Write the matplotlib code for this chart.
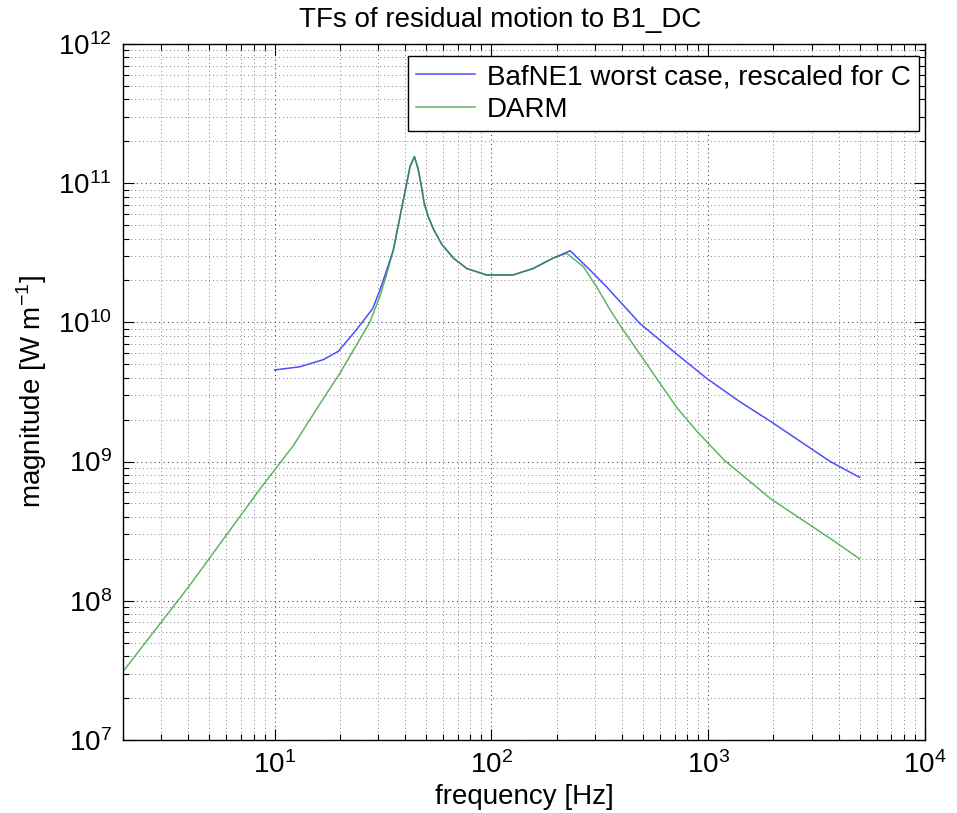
# plot.py
#
# Transfer functions of residual motion to B1_DC.
# Two magnitude curves on log-log axes, MATLAB-like styling.

import numpy as np
import matplotlib
matplotlib.use("Agg")
import matplotlib.pyplot as plt
from matplotlib.ticker import LogLocator, NullFormatter

# ---- Data -------------------------------------------------------------

# DARM curve: frequency [Hz] and magnitude [W/m]
darm_freq = [2, 4, 8.6, 12.2, 16.2, 20, 27.5, 30.6, 32.7, 35.3, 39.3, 42.2,
             44.2, 46, 47.7, 49, 51.2, 54, 59, 66.8, 77, 95, 126, 156,
             193, 223, 266, 306, 353, 406, 485, 579, 716, 897, 1190, 1945,
             3660, 5000]
darm_mag = [3.1e7, 1.25e8, 6.4e8, 1.3e9, 2.6e9, 4.3e9, 1.0e10, 1.53e10,
            2.15e10, 3.3e10, 7.6e10, 1.32e11, 1.55e11, 1.26e11, 9.3e10,
            7.2e10, 5.75e10, 4.7e10, 3.65e10, 2.9e10, 2.44e10, 2.19e10,
            2.19e10, 2.44e10, 2.9e10, 3.13e10, 2.51e10, 1.80e10, 1.23e10,
            8.8e9, 5.9e9, 3.95e9, 2.45e9, 1.62e9, 1.02e9, 5.4e8, 2.8e8,
            2.0e8]

# BafNE1 worst case, rescaled for C
baf_freq = [10, 13.1, 16.8, 19.7, 23.8, 28.4, 30.6, 32.7, 35.3, 39.3, 42.2,
            44.2, 46, 47.7, 49, 51.2, 54, 59, 66.8, 77, 95, 126, 156, 193,
            231, 285, 340, 406, 485, 691, 985, 1402, 1945, 3660, 5000]
baf_mag = [4.55e9, 4.8e9, 5.4e9, 6.2e9, 8.8e9, 1.26e10, 1.7e10, 2.3e10,
           3.3e10, 7.6e10, 1.32e11, 1.55e11, 1.26e11, 9.3e10, 7.2e10,
           5.75e10, 4.7e10, 3.65e10, 2.9e10, 2.44e10, 2.19e10, 2.19e10,
           2.44e10, 2.9e10, 3.27e10, 2.38e10, 1.80e10, 1.33e10, 9.8e9,
           6.2e9, 3.96e9, 2.69e9, 1.94e9, 1.0e9, 7.7e8]

legend_labels = ["BafNE1 worst case, rescaled for C", "DARM"]


# ---- Plotting ----------------------------------------------------------

def plot_results(outpath="out.png"):
    plt.rcParams["font.family"] = ["Liberation Sans", "DejaVu Sans"]
    plt.rcParams["mathtext.fontset"] = "custom"
    plt.rcParams["mathtext.rm"] = "Liberation Sans"

    fig = plt.figure(figsize=(9.57, 8.13), dpi=100)
    ax = fig.add_axes([0.1285, 0.0898, 0.8380, 0.8561])

    ax.loglog(baf_freq, baf_mag, color="#4d4dff", lw=1.1,
              label=legend_labels[0])
    ax.loglog(darm_freq, darm_mag, color="#2e9a2e", lw=1.1, alpha=0.75,
              label=legend_labels[1])

    ax.set_xlim(2, 1e4)
    ax.set_ylim(1e7, 1e12)

    # MATLAB style grid: dotted on major and minor ticks
    ax.xaxis.set_minor_locator(LogLocator(base=10, subs=np.arange(2, 10)))
    ax.yaxis.set_minor_locator(LogLocator(base=10, subs=np.arange(2, 10)))
    ax.xaxis.set_minor_formatter(NullFormatter())
    ax.yaxis.set_minor_formatter(NullFormatter())
    ax.grid(True, which="major", ls=(0, (1, 3)), color="0.3", lw=0.8)
    ax.grid(True, which="minor", ls=(0, (1, 3)), color="0.5", lw=0.7)

    ax.tick_params(which="both", direction="in", top=True, right=True,
                   labelsize=20, width=0.8)
    ax.tick_params(which="major", length=8, pad=8)
    ax.tick_params(which="minor", length=4)
    for sp in ax.spines.values():
        sp.set_linewidth(1.0)

    ax.set_xlabel("frequency [Hz]", fontsize=20, labelpad=4)
    ax.set_ylabel("magnitude [W m$^{-1}$]", fontsize=20, labelpad=6)
    ax.set_title("TFs of residual motion to B1_DC", fontsize=20, pad=12,
                 x=0.47)

    leg = ax.legend(loc="upper right", fontsize=20, fancybox=False,
                    framealpha=1, edgecolor="black",
                    bbox_to_anchor=(0.993, 0.983),
                    borderaxespad=0.0, handlelength=2.1,
                    handletextpad=0.45, borderpad=0.3, labelspacing=0.25)
    leg.get_frame().set_linewidth(1.0)

    fig.savefig(outpath, dpi=100)


# ---- Main --------------------------------------------------------------

def main():
    plot_results("out.png")


if __name__ == "__main__":
    main()
